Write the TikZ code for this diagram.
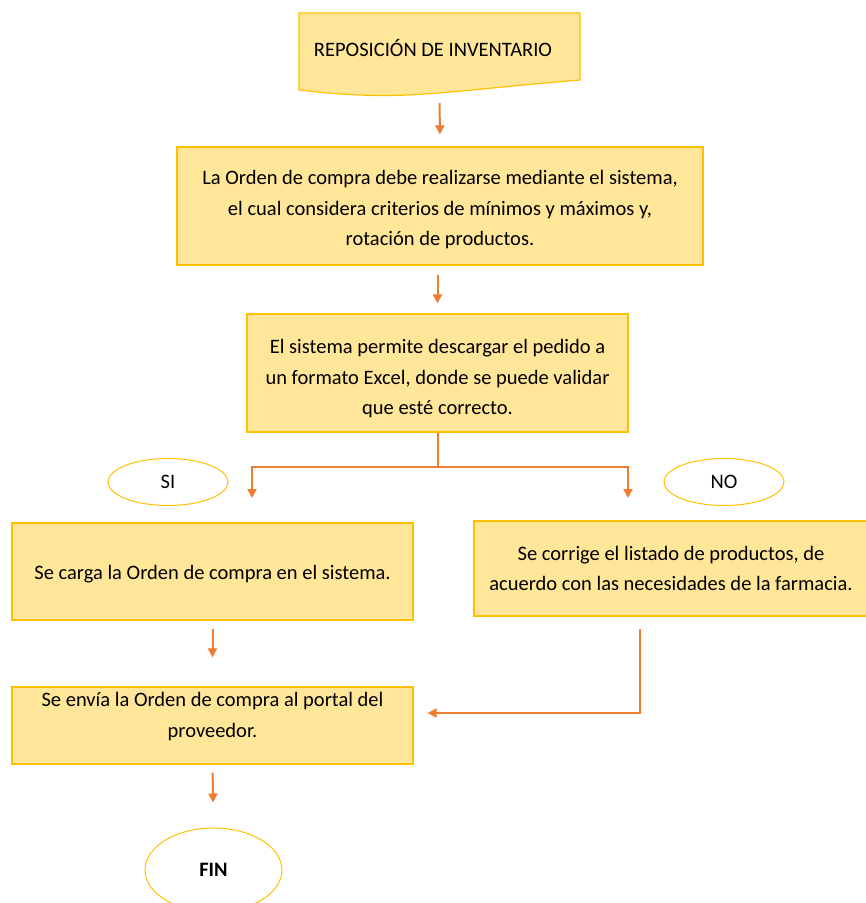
\documentclass[tikz,border=0pt]{standalone}
\usepackage{fontspec}
\setmainfont{Carlito}
\usetikzlibrary{positioning,shapes,arrows.meta}
\definecolor{boxfill}{HTML}{FFE699}
\definecolor{boxline}{HTML}{FFC000}
\definecolor{flecha}{HTML}{ED7D31}

\begin{document}
\begin{tikzpicture}[x=1pt,y=-1pt,
        font=\fontsize{20.5}{30.5}\selectfont,
        every node/.append style={align=center,text=black}]
      \tikzstyle{paso} = [rectangle,draw=boxline,fill=boxfill,line width=1.2pt,inner sep=0pt]
      \tikzstyle{opcion} = [ellipse,draw=boxline,fill=white,line width=1pt,inner sep=0pt]
      \tikzstyle{flujo} = [draw=flecha,line width=2pt,-{Triangle[width=9pt,length=9pt]}]
      \useasboundingbox (0,0) rectangle (866,903);
      % documento de inicio
      \draw[draw=boxline,fill=boxfill,line width=1.2pt] (299,13) -- (580,13) -- (580,80)
        .. controls (480,88) and (420,98) .. (360,95) .. controls (330,94) and (310,91) .. (299,90) -- cycle;
      \node (repo) [minimum width=281pt,minimum height=77pt,inner sep=0pt] at (439.5,51.5) {};
      \node (repotexto) at (433,48) {REPOSICIÓN DE INVENTARIO};
      % pasos
      \node (orden) [paso,minimum width=526pt,minimum height=118pt] at (440,206) {};
      \node (ordentexto) at (440,210)
        {La Orden de compra debe realizarse mediante el sistema,\\
         el cual considera criterios de mínimos y máximos y,\\
         rotación de productos.};
      \node (excel) [paso,minimum width=381pt,minimum height=118pt] at (437.5,373) {};
      \node (exceltexto) at (437.5,379)
        {El sistema permite descargar el pedido a\\
         un formato Excel, donde se puede validar\\
         que esté correcto.};
      \node (si) [opcion,minimum width=120pt,minimum height=47pt] at (168,482) {SI};
      \node (no) [opcion,minimum width=120pt,minimum height=47pt] at (724,482) {NO};
      \node (carga) [paso,minimum width=401pt,minimum height=97pt] at (212.5,571.5) {};
      \node (cargatexto) at (212.5,574.5) {Se carga la Orden de compra en el sistema.};
      \node (corrige) [paso,minimum width=394pt,minimum height=95pt] at (671,568.5)
        {Se corrige el listado de productos, de\\
         acuerdo con las necesidades de la farmacia.};
      \node (envia) [paso,minimum width=401pt,minimum height=77pt] at (212.5,725.5) {};
      \node (enviatexto) at (212.5,716.5)
        {Se envía la Orden de compra al portal del\\
         proveedor.};
      \node (fin) [opcion,minimum width=137pt,minimum height=84pt] at (213.5,870) {\textbf{FIN}};
      % conectores
      \coordinate (rama) at (437.5,467);
      \coordinate (siflecha) at (252,498);
      \coordinate (noflecha) at (628,498);
      \coordinate (retorno) at (640,713);
      \draw[flujo,shorten <=13pt,shorten >=12pt] (repo.south) -- (orden.north);
      \draw[flujo,shorten <=9pt,shorten >=10pt] (excel.north |- orden.south) -- (excel.north);
      \draw[draw=flecha,line width=2pt] (excel.south) -- (rama);
      \draw[flujo] (rama) -| (siflecha);
      \draw[flujo] (rama) -| (noflecha);
      \draw[flujo,shorten <=8pt,shorten >=29pt] (carga.south) -- (envia.north);
      \draw[flujo,shorten <=12pt,shorten >=14pt] (corrige.south -| retorno) -- (retorno) -- (envia.east |- retorno);
      \draw[flujo,shorten <=8pt,shorten >=25pt] (envia.south) -- (fin.north);
    \end{tikzpicture}
\end{document}
